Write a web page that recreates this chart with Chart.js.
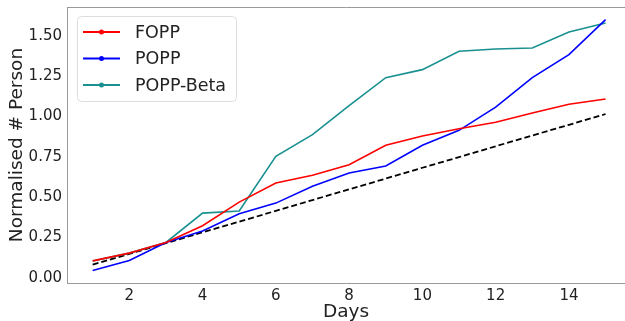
<!DOCTYPE html>
<html>
<head>
<meta charset="utf-8">
<script src="https://cdn.jsdelivr.net/npm/chart.js@4"></script>
<style>
  html, body { margin: 0; padding: 0; background: #fff; }
  #wrap { width: 625px; height: 321px; }
</style>
</head>
<body>
<div id="wrap"><canvas id="chart"></canvas></div>
<script>
// data
const days = [1, 2, 3, 4, 5, 6, 7, 8, 9, 10, 11, 12, 13, 14, 15];
const fopp = [0.09, 0.138, 0.204, 0.308, 0.454, 0.572, 0.62, 0.686, 0.806, 0.864, 0.909, 0.949, 1.006, 1.06, 1.093];
const popp = [0.031, 0.093, 0.204, 0.275, 0.382, 0.448, 0.552, 0.634, 0.678, 0.806, 0.899, 1.043, 1.225, 1.368, 1.585];
const poppBeta = [0.089, 0.138, 0.204, 0.386, 0.399, 0.738, 0.872, 1.052, 1.225, 1.275, 1.389, 1.403, 1.409, 1.508, 1.564];
const reference = [0.067, 0.133, 0.2, 0.267, 0.333, 0.4, 0.467, 0.533, 0.6, 0.667, 0.733, 0.8, 0.867, 0.933, 1.0];
const xTicks = [2, 4, 6, 8, 10, 12, 14];
const yTicks = [0, 0.25, 0.5, 0.75, 1.0, 1.25, 1.5];

const font = 'DejaVu Sans';
const toPoints = (ys) => ys.map((y, i) => ({ x: days[i], y: y }));

// top spine + matplotlib-style legend box in the upper left
const boxLegend = {
    id: 'boxLegend',
    afterDraw(chart) {
        const ctx = chart.ctx;
        const area = chart.chartArea;
        ctx.save();
        ctx.strokeStyle = '#999999';
        ctx.lineWidth = 1;
        ctx.beginPath();
        ctx.moveTo(area.left, area.top + 0.5);
        ctx.lineTo(area.right + 1, area.top + 0.5);
        ctx.stroke();

        const items = chart.data.datasets.filter((d) => d.label);
        const x = 77, y = 16, w = 159, h = 85;
        ctx.fillStyle = 'rgba(255,255,255,0.85)';
        ctx.strokeStyle = '#dddddd';
        ctx.beginPath();
        ctx.roundRect(x + 0.5, y + 0.5, w, h, 4);
        ctx.fill();
        ctx.stroke();
        ctx.font = '17.5px "' + font + '"';
        ctx.textBaseline = 'middle';
        items.forEach((d, i) => {
            const cy = y + 16 + i * 26.5;
            ctx.strokeStyle = d.borderColor;
            ctx.lineWidth = 1.8;
            ctx.beginPath();
            ctx.moveTo(83, cy);
            ctx.lineTo(120, cy);
            ctx.stroke();
            ctx.fillStyle = d.borderColor;
            ctx.beginPath();
            ctx.arc(101.5, cy, 2.5, 0, Math.PI * 2);
            ctx.fill();
            ctx.fillStyle = '#222';
            ctx.fillText(d.label, 135, cy + 1);
        });
        ctx.restore();
    }
};

new Chart(document.getElementById('chart'), {
    type: 'line',
    data: {
        datasets: [
            { label: 'FOPP', data: toPoints(fopp), borderColor: '#ff0000', borderWidth: 1.6 },
            { label: 'POPP', data: toPoints(popp), borderColor: '#0000ff', borderWidth: 1.6 },
            { label: 'POPP-Beta', data: toPoints(poppBeta), borderColor: '#1a9090', borderWidth: 1.6 },
            { label: '', data: toPoints(reference), borderColor: '#000000', borderWidth: 1.8, borderDash: [6, 3] },
        ],
    },
    options: {
        responsive: true,
        maintainAspectRatio: false,
        animation: false,
        layout: { padding: { left: 0, right: 0, top: 7, bottom: 0 } },
        elements: {
            point: { radius: 0 },
            line: { tension: 0, fill: false },
        },
        plugins: {
            legend: { display: false },
            tooltip: { enabled: false },
        },
        scales: {
            x: {
                type: 'linear',
                min: 0.3,
                max: 15.53,
                afterBuildTicks: (axis) => { axis.ticks = xTicks.map((v) => ({ value: v })); },
                afterFit: (axis) => { axis.height = 38; axis.paddingLeft = 0; axis.paddingRight = 0; },
                grid: { display: false, drawTicks: true, tickLength: 3, tickColor: '#777' },
                border: { display: true, color: '#999999', width: 1 },
                ticks: { color: '#222', font: { family: font, size: 15 }, padding: 1, maxRotation: 0 },
                title: { display: true, text: 'Days', color: '#222', font: { family: font, size: 18.5, lineHeight: 1 }, padding: { top: 0, bottom: 0 } },
            },
            y: {
                min: -0.047,
                max: 1.663,
                afterBuildTicks: (axis) => { axis.ticks = yTicks.map((v) => ({ value: v })); },
                afterFit: (axis) => { axis.width = 67; axis.paddingTop = 0; axis.paddingBottom = 0; },
                grid: { display: false, drawTicks: true, tickLength: 3, tickColor: '#777' },
                border: { display: true, color: '#999999', width: 1 },
                ticks: { color: '#222', font: { family: font, size: 15 }, padding: 2, labelOffset: 2.5, callback: (v) => v.toFixed(2) },
                title: { display: true, text: 'Normalised # Person', color: '#222', font: { family: font, size: 18.5 }, padding: { top: 6, bottom: 0 } },
            },
        },
    },
    plugins: [boxLegend],
});
</script>
</body>
</html>
